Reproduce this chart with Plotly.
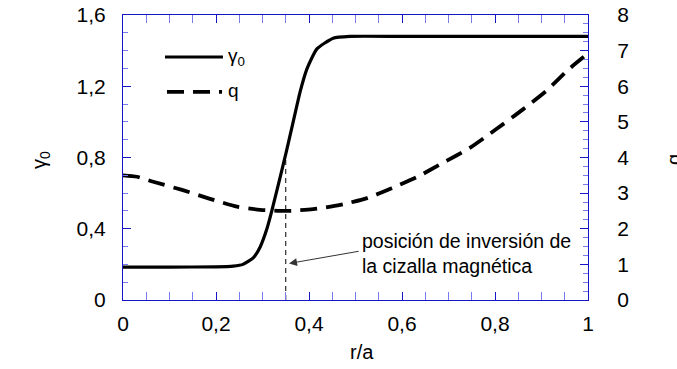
import plotly.graph_objects as go

# gamma_0 profile (left axis)
g_x = [0, 0.1, 0.2, 0.237, 0.258, 0.28, 0.295, 0.31, 0.32, 0.338, 0.351, 0.366,
       0.381, 0.396, 0.417, 0.452, 0.488, 0.6, 0.8, 1.0]
g_y = [0.185, 0.185, 0.186, 0.19, 0.2, 0.236, 0.298, 0.404, 0.50, 0.69, 0.83, 1.0,
       1.17, 1.30, 1.41, 1.47, 1.48, 1.48, 1.48, 1.48]

# q profile (right axis)
q_x = [0, 0.03, 0.065, 0.127, 0.187, 0.245, 0.295, 0.352, 0.409, 0.467, 0.525, 0.578,
       0.632, 0.688, 0.746, 0.80, 0.858, 0.912, 0.957, 1.0]
q_y = [3.50, 3.46, 3.32, 3.09, 2.84, 2.62, 2.53, 2.50, 2.55, 2.67, 2.86, 3.14,
       3.45, 3.85, 4.27, 4.77, 5.33, 5.89, 6.46, 6.92]

# magnetic shear inversion position
inv_x = [0.35, 0.35]
inv_y = [0, 0.8]

x_ticks = [0, 0.2, 0.4, 0.6, 0.8, 1]
y_ticks = [0, 0.4, 0.8, 1.2, 1.6]
y2_ticks = [0, 1, 2, 3, 4, 5, 6, 7, 8]

FONT = "Arial, Liberation Sans, sans-serif"
AX = "#1414c8"
MINOR = "#7a7af0"

fig = go.Figure()
fig.add_trace(go.Scatter(x=g_x, y=g_y, mode="lines", name="γ0",
                         line=dict(color="black", width=3.2, shape="spline", smoothing=0.5),
                         showlegend=False))
fig.add_trace(go.Scatter(x=q_x, y=q_y, mode="lines", name="q", yaxis="y2",
                         line=dict(color="black", width=3.8, dash="17px,9px", shape="spline", smoothing=0.6),
                         showlegend=False))
fig.add_trace(go.Scatter(x=inv_x, y=inv_y, mode="lines",
                         line=dict(color="black", width=1, dash="5px,4px"),
                         showlegend=False))

tickfont = dict(family=FONT, size=21, color="black")
fig.update_layout(
    width=677, height=369,
    margin=dict(l=123, r=89, t=15, b=69, autoexpand=False),
    paper_bgcolor="white", plot_bgcolor="white",
    separators=",.",
    font=dict(family=FONT, color="black"),
    xaxis=dict(range=[0, 1], tickvals=x_ticks, showgrid=False, zeroline=False, automargin=False,
               showline=True, linecolor=AX, linewidth=1, mirror="allticks",
               ticks="inside", ticklen=8, tickcolor=AX, tickwidth=1,
               minor=dict(dtick=0.05, ticks="inside", ticklen=5, tickcolor=MINOR, showgrid=False),
               tickfont=tickfont, ticklabelstandoff=5),
    yaxis=dict(range=[0, 1.6], tickvals=y_ticks, showgrid=False, zeroline=False, automargin=False,
               showline=True, linecolor=AX, linewidth=1,
               ticks="inside", ticklen=8, tickcolor=AX, tickwidth=1,
               minor=dict(dtick=0.1, ticks="inside", ticklen=5, tickcolor=MINOR, showgrid=False),
               tickfont=tickfont, ticklabelstandoff=12),
    yaxis2=dict(range=[0, 8], tickvals=y2_ticks, overlaying="y", side="right", automargin=False,
                showgrid=False, zeroline=False,
                showline=True, linecolor=AX, linewidth=1,
                ticks="inside", ticklen=8, tickcolor=AX, tickwidth=1,
                minor=dict(dtick=0.25, ticks="inside", ticklen=5, tickcolor=MINOR, showgrid=False),
                tickfont=tickfont, ticklabelstandoff=24),
)

# legend drawn manually (long line samples)
fig.add_shape(type="line", xref="paper", yref="paper", x0=0.0903, x1=0.215, y0=0.8526, y1=0.8526,
              line=dict(color="black", width=3.2))
fig.add_shape(type="line", xref="paper", yref="paper", x0=0.0946, x1=0.213, y0=0.730, y1=0.730,
              line=dict(color="black", width=3.8, dash="17px,9px"))
fig.add_annotation(xref="paper", yref="paper", x=0.222, y=0.8526, xanchor="left", yanchor="middle",
                   text="γ<sub>0</sub>", showarrow=False, font=dict(size=19))
fig.add_annotation(xref="paper", yref="paper", x=0.222, y=0.735, xanchor="left", yanchor="middle",
                   text="q", showarrow=False, font=dict(size=19))

# axis titles
fig.add_annotation(xref="paper", yref="paper", x=(362 - 123) / 465, y=(300 - 352) / 285,
                   xanchor="center", yanchor="middle", text="r/a", showarrow=False, font=dict(size=20))
fig.add_annotation(xref="paper", yref="paper", x=(40 - 123) / 465, y=(300 - 160) / 285,
                   xanchor="center", yanchor="middle", text="γ<sub>0</sub>", textangle=-90,
                   showarrow=False, font=dict(size=20))
fig.add_annotation(xref="paper", yref="paper", x=(674 - 123) / 465, y=(300 - 160) / 285,
                   xanchor="center", yanchor="middle", text="q", textangle=-90,
                   showarrow=False, font=dict(size=20))

# arrow + text annotation
fig.add_annotation(x=0.357, y=0.205, ax=0.51, ay=0.275, xref="x", yref="y", axref="x", ayref="y",
                   text="", showarrow=True, arrowhead=2, arrowsize=1.6, arrowwidth=1, arrowcolor="#333333")
fig.add_annotation(x=0.51, y=0.262, xref="x", yref="y", xanchor="left", yanchor="middle",
                   text="posición de inversión de<br>la cizalla magnética", align="left",
                   showarrow=False, font=dict(size=19.5))

fig.write_html("out.html", config={"displayModeBar": False},
               post_script="document.body.style.margin='0';document.body.style.overflow='hidden';")
